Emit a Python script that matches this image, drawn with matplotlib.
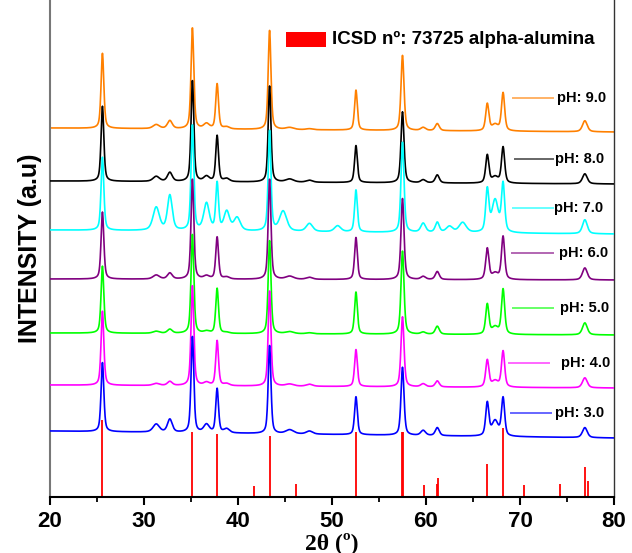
# XRD patterns of alumina samples at different pH, with ICSD reference sticks

import numpy as np
import matplotlib.pyplot as plt
from matplotlib.patches import Rectangle

plt.rcParams["font.family"] = ["Liberation Sans", "DejaVu Sans"]

# 2theta grid
two_theta = np.arange(20, 80.001, 0.02)

# Peaks shared by all patterns (position, FWHM in degrees)
peak_pos = [25.58, 31.3, 32.75, 35.15, 36.65, 37.78, 38.8, 43.36, 45.5, 47.6,
            52.55, 57.5, 59.7, 61.2, 66.52, 67.35, 68.2, 76.9]
peak_fwhm = [0.35, 0.8, 0.6, 0.35, 0.7, 0.35, 0.7, 0.35, 1.0, 0.8,
             0.35, 0.38, 0.6, 0.5, 0.4, 0.8, 0.4, 0.6]

# Peak heights above baseline (a.u.), top pattern first
heights_ph9 = [75, 4, 8, 101, 5, 45, 2, 99, 2, 1, 40, 75, 3, 7, 27, 6, 38, 11]
heights_ph8 = [75, 5, 9, 101, 5, 46, 3, 96, 3, 2, 37, 71, 3, 8, 28, 6, 36, 10]
heights_ph7 = [73, 23, 35, 105, 27, 47, 19, 100, 0, 8, 42, 90, 9, 10, 42, 32, 48, 14]
heights_ph6 = [67, 4, 6, 100, 3, 42, 2, 100, 3, 2, 42, 81, 3, 8, 31, 6, 43, 12]
heights_ph5 = [67, 2, 4, 99, 2, 45, 1, 93, 2, 1, 42, 83, 2, 8, 30, 7, 45, 12]
heights_ph4 = [74, 2, 4, 100, 3, 45, 2, 95, 2, 2, 37, 70, 3, 6, 27, 6, 36, 10]
heights_ph3 = [69, 8, 13, 96, 8, 44, 4, 88, 4, 3, 38, 68, 5, 8, 33, 15, 38, 10]

# Extra broad peaks only seen at pH 7.0
cyan_extra_pos = [39.9, 44.8, 50.6, 62.5, 63.9]
cyan_extra_h = [13, 20, 6, 6, 10]
cyan_extra_fwhm = [0.8, 0.9, 0.8, 0.8, 0.9]

# Baseline level at 20 and 80 degrees for each pattern
baseline_left = [369, 316, 267, 218, 164, 112, 66]
baseline_right = [365, 313, 263, 217, 162, 109, 59]

labels = ["pH: 9.0", "pH: 8.0", "pH: 7.0", "pH: 6.0", "pH: 5.0", "pH: 4.0", "pH: 3.0"]
colors = ["#FF8000", "#000000", "#00FFFF", "#800080", "#00FF00", "#FF00FF", "#0000FF"]

# ICSD 73725 alpha-alumina reference sticks
ref_pos = [25.58, 35.15, 37.78, 41.68, 43.36, 46.18, 52.55, 57.44, 57.52, 59.74,
           61.12, 61.30, 66.52, 68.21, 70.42, 74.30, 76.87, 77.23]
ref_int = [77, 65, 63, 11, 61, 13, 65, 65, 65, 12, 13, 19, 33, 69, 12, 13, 30, 16]

# label positions (data coords)
leg_x0 = [69.26, 69.47, 69.26, 69.15, 69.26, 68.83, 69.04]
leg_x1 = [73.51, 73.51, 73.51, 73.51, 73.51, 73.09, 73.30]
leg_y = [399, 338, 289, 244, 189, 134, 84]
txt_x = [73.94, 73.72, 73.62, 74.15, 74.26, 74.36, 73.72]


def profile(x, pos, h, fwhm):
    g = fwhm / 2.0
    d = (x - pos) / g
    return h * (0.5 / (1 + d ** 2) + 0.5 * np.exp(-np.log(2) * d ** 2))


all_heights = [heights_ph9, heights_ph8, heights_ph7, heights_ph6,
               heights_ph5, heights_ph4, heights_ph3]

fig = plt.figure(figsize=(6.32, 5.53), dpi=100)
ax = fig.add_axes([50 / 632, 56 / 553, 564 / 632, 497 / 553])

# reference sticks
ax.vlines(ref_pos, 0, ref_int, colors="#FF0000", linewidth=1.3, zorder=1)

for i in range(len(labels)):
    base = baseline_left[i] + (baseline_right[i] - baseline_left[i]) * (two_theta - 20) / 60
    y = base.copy()
    for p, h, w in zip(peak_pos, all_heights[i], peak_fwhm):
        y += profile(two_theta, p, h, w)
    if labels[i] == "pH: 7.0":
        for p, h, w in zip(cyan_extra_pos, cyan_extra_h, cyan_extra_fwhm):
            y += profile(two_theta, p, h, w)
    ax.plot(two_theta, y, color=colors[i], linewidth=1.2, zorder=2 + i)

    # label next to the curve
    ax.plot([leg_x0[i], leg_x1[i]], [leg_y[i], leg_y[i]], color=colors[i],
            linewidth=1.4, alpha=0.6, zorder=20)
    ax.text(txt_x[i], leg_y[i], labels[i], fontsize=10.5, fontweight="bold",
            va="center", ha="left", zorder=21)

# ICSD legend entry
ax.add_patch(Rectangle((45.11, 450), 4.25, 15, facecolor="#FF0000",
                       edgecolor="none", zorder=20))
ax.text(50.0, 458, "ICSD nº: 73725 alpha-alumina", fontsize=13.5,
        fontweight="bold", va="center", ha="left", zorder=21)

ax.set_xlim(20, 80)
ax.set_ylim(0, 497)
ax.set_xticks([20, 30, 40, 50, 60, 70, 80])
ax.set_xticks(np.arange(25, 80, 10), minor=True)
ax.set_yticks([])
ax.tick_params(axis="x", which="major", direction="out", length=6, width=1.5,
               labelsize=16, pad=4)
ax.tick_params(axis="x", which="minor", direction="out", length=3.5, width=1.3)
for lab in ax.get_xticklabels():
    lab.set_fontweight("bold")

ax.spines["top"].set_visible(False)
ax.spines["left"].set_color("#777777")
ax.spines["left"].set_linewidth(1.5)
ax.spines["right"].set_color("#333333")
ax.spines["right"].set_linewidth(1.0)
ax.spines["bottom"].set_linewidth(1.5)

ax.set_xlabel("2θ (º)", fontsize=17, fontweight="bold",
              family=["Liberation Serif", "DejaVu Serif"], labelpad=0)
ax.set_ylabel("INTENSITY (a.u)", fontsize=18, fontweight="bold", labelpad=6)

fig.savefig("out.png", dpi=100)
